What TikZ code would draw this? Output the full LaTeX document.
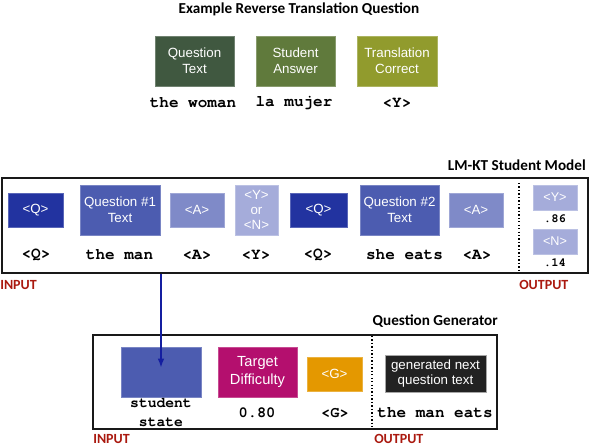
\documentclass[tikz,border=0pt]{standalone}
\usepackage{fontspec}
\setmainfont{Liberation Sans}
\newfontfamily\calfont{Carlito}
\newfontfamily\cmono{TeX Gyre Cursor}
\usetikzlibrary{arrows.meta}
\definecolor{gA}{RGB}{64,88,64}
\definecolor{gB}{RGB}{96,122,60}
\definecolor{gC}{RGB}{145,155,45}
\definecolor{bA}{RGB}{34,51,160}
\definecolor{bB}{RGB}{76,92,176}
\definecolor{bC}{RGB}{127,138,200}
\definecolor{bD}{RGB}{165,172,218}
\definecolor{mag}{RGB}{180,15,110}
\definecolor{org}{RGB}{228,152,0}
\definecolor{dk}{RGB}{34,34,34}
\definecolor{arr}{RGB}{20,30,160}
\definecolor{red}{RGB}{170,25,15}
\tikzset{
  bx/.style 2 args={rectangle, inner sep=0pt, text=white, align=center,
    minimum width=#1*0.75pt, minimum height=#2*0.75pt,
    font=\fontsize{10}{11.8}\selectfont},
  fl/.style={fill=#1, draw=#1!75!white, line width=0.4pt},
  mono/.style={font=\cmono\bfseries\fontsize{12}{14}\selectfont, inner sep=0pt, align=center},
  ttl/.style={font=\calfont\bfseries\fontsize{11.4}{13}\selectfont, inner sep=0pt},
  io/.style={font=\calfont\bfseries\fontsize{10.5}{12}\selectfont, text=red, inner sep=0pt},
  frame/.style={draw=black!90, line width=1.5pt, rectangle, inner sep=0pt},
  dots/.style={line width=1pt, dash pattern=on 1pt off 1.6pt}
}
\begin{document}
\begin{tikzpicture}[x=0.75pt,y=-0.75pt]
\clip (0,0) rectangle (590,446);
\useasboundingbox (0,0) rectangle (590,446);
% top
\node[ttl] (t1) at (299,9) {Example Reverse Translation Question};
\node[bx={79}{50}, fl=gA] (qt) at (194.5,61) {Question\\Text};
\node[bx={79}{50}, fl=gB] (sa) at (295.5,61) {Student\\Answer};
\node[bx={80}{50}, fl=gC] (tc) at (397,61) {Translation\\Correct};
\node[mono] (l1) at (193,103) {the woman};
\node[mono] (l2) at (294,103) {la mujer};
\node[mono] (l3) at (397,103) {<Y>};
% middle
\node[frame, minimum width=586*0.75pt, minimum height=95*0.75pt] (lm) at (295,225.5) {};
\node[ttl, anchor=east] (t2) at (586,165) {LM-KT Student Model};
\node[bx={55}{34}, fl=bA] (q1) at (35.5,210) {<Q>};
\node[bx={80}{50}, fl=bB] (qt1) at (120,210) {Question \#1\\Text};
\node[bx={54}{34}, fl=bC] (a1) at (197,210) {<A>};
\node[bx={43}{50}, fl=bD, font=\fontsize{10}{11.5}\selectfont] (yn) at (256.5,210) {<Y>\\or\\<N>};
\node[bx={57}{34}, fl=bA] (q2) at (318.5,210) {<Q>};
\node[bx={79}{50}, fl=bB] (qt2) at (399.5,210) {Question \#2\\Text};
\node[bx={54}{34}, fl=bC] (a2) at (476,210) {<A>};
\node[bx={44}{25}, fl=bD, font=\fontsize{9.5}{11}\selectfont] (oy) at (555,197.5) {<Y>};
\node[bx={44}{25}, fl=bD, font=\fontsize{9.5}{11}\selectfont] (on) at (555,241.5) {<N>};
\node[mono, font=\cmono\bfseries\fontsize{9.2}{11}\selectfont] (p1) at (555,219) {.86};
\node[mono, font=\cmono\bfseries\fontsize{9.2}{11}\selectfont] (p2) at (555,263) {.14};
\node[mono] (m1) at (36,255) {<Q>};
\node[mono] (m2) at (119.5,255) {the man};
\node[mono] (m3) at (197,255) {<A>};
\node[mono] (m4) at (256,255) {<Y>};
\node[mono] (m5) at (318,255) {<Q>};
\node[mono] (m6) at (404.5,255) {she eats};
\node[mono] (m7) at (477,255) {<A>};
\coordinate (d1) at (519,183);
\coordinate (d2) at (519,270);
\draw[dots] (d1) -- (d2);
\node[io, anchor=west] (in1) at (0,285) {INPUT};
\node[io, anchor=west] (out1) at (519,285) {OUTPUT};
% bottom
\node[frame, minimum width=404*0.75pt, minimum height=94*0.75pt] (qg) at (295,382) {};
\node[ttl, anchor=east] (t3) at (498,321) {Question Generator};
\node[bx={80}{50}, fl=bB] (ss) at (161,372) {};
\node[bx={79}{50}, fl=mag, font=\fontsize{11}{13.3}\selectfont] (td) at (257.5,372) {Target\\Difficulty};
\node[bx={55}{34}, fl=org] (g) at (334.5,374) {<G>};
\node[bx={101}{37}, fill=dk, draw=gray!70, line width=0.5pt] (gen) at (435.5,373.5) {generated next\\question text};
\node[mono, font=\cmono\bfseries\fontsize{11}{14.25}\selectfont] (n1) at (161,412.5) {student\\state};
\node[mono, font=\cmono\bfseries\fontsize{11.5}{14}\selectfont] (n2) at (257,413) {0.80};
\node[mono, font=\cmono\bfseries\fontsize{11.5}{14}\selectfont] (n3) at (335,413) {<G>};
\node[mono] (n4) at (435,413) {the man eats};
\coordinate (e1) at (372,336);
\coordinate (e2) at (372,427);
\draw[dots] (e1) -- (e2);
\node[io, anchor=west] (in2) at (93,439) {INPUT};
\node[io, anchor=west] (out2) at (374,439) {OUTPUT};
% arrow
\coordinate (tip) at (161,368);
\draw[arr, line width=1.5pt, -{Latex[length=7pt,width=5pt]}] (lm.south -| ss.center) -- (tip);
\end{tikzpicture}
\end{document}
